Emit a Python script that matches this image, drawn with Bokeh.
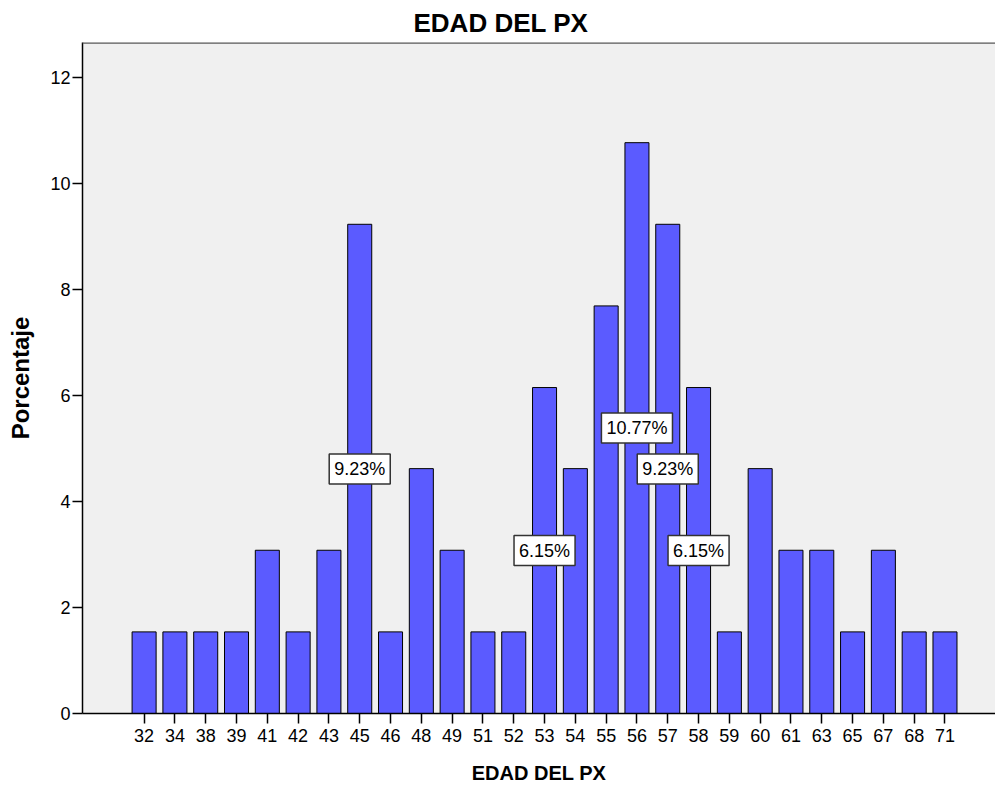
from bokeh.plotting import figure
from bokeh.models import ColumnDataSource, Label, FixedTicker, Range1d, Span
from bokeh.embed import file_html
from bokeh.resources import INLINE

edades = ["32", "34", "38", "39", "41", "42", "43", "45", "46", "48", "49", "51", "52", "53",
          "54", "55", "56", "57", "58", "59", "60", "61", "63", "65", "67", "68", "71"]
porcentaje = [1.54, 1.54, 1.54, 1.54, 3.08, 1.54, 3.08, 9.23, 1.54, 4.62, 3.08, 1.54, 1.54, 6.15,
              4.62, 7.69, 10.77, 9.23, 6.15, 1.54, 4.62, 3.08, 3.08, 1.54, 3.08, 1.54, 1.54]
etiquetadas = ["45", "53", "56", "57", "58"]

idx = list(range(len(edades)))
src = ColumnDataSource(dict(x=idx, top=porcentaje))

FONT = "Liberation Sans"
Y_TOP = 12.66

p = figure(width=995, height=787, output_backend="svg", toolbar_location=None,
           x_range=Range1d(-2.0, 27.64), y_range=Range1d(0, Y_TOP),
           min_border_left=82, min_border_right=0, min_border_top=42, min_border_bottom=74)

p.title.text = "EDAD DEL PX"
p.title.align = "left"
p.title.offset = 331
p.title.standoff = 10
p.title.text_font = FONT
p.title.text_font_size = "26px"
p.title.text_font_style = "bold"
p.title.text_color = "black"

p.background_fill_color = "#F0F0F0"
p.border_fill_color = "white"
p.outline_line_color = None
p.xgrid.visible = False
p.ygrid.visible = False

# top frame border (the reference shows no right border)
p.add_layout(Span(location=Y_TOP, dimension="width", line_color="#5a5a5a", line_width=2.5))

p.vbar(x="x", top="top", width=0.78, source=src, fill_color="#5B5BFF",
       line_color="black", line_width=1)

p.xaxis.ticker = FixedTicker(ticks=idx)
p.xaxis.major_label_overrides = {i: e for i, e in enumerate(edades)}
p.yaxis.ticker = FixedTicker(ticks=[0, 2, 4, 6, 8, 10, 12])

for ax in (p.xaxis, p.yaxis):
    ax.axis_line_color = "black"
    ax.axis_line_width = 1.5
    ax.major_tick_line_color = "black"
    ax.major_tick_line_width = 1.5
    ax.major_tick_out = 10
    ax.major_tick_in = 0
    ax.minor_tick_line_color = None
    ax.major_label_text_font = FONT
    ax.major_label_text_color = "black"
    ax.axis_label_text_font = FONT
    ax.axis_label_text_font_style = "bold"
    ax.axis_label_text_color = "black"

p.xaxis.major_label_text_font_size = "18px"
p.yaxis.major_label_text_font_size = "18px"
p.xaxis.axis_label_text_font_size = "20px"
p.yaxis.axis_label_text_font_size = "24px"
p.xaxis.axis_label = "EDAD DEL PX"
p.yaxis.axis_label = "Porcentaje"
p.xaxis.major_label_standoff = 5
p.yaxis.major_label_standoff = 2
p.xaxis.axis_label_standoff = 17
p.yaxis.axis_label_standoff = 13

for e in etiquetadas:
    i = edades.index(e)
    v = porcentaje[i]
    p.add_layout(Label(x=i, y=v / 2, text="%.2f%%" % v, text_align="center",
                       text_baseline="middle", text_font=FONT, text_font_size="18px",
                       text_color="black", background_fill_color="white",
                       border_line_color="#333333", border_line_width=1.5, padding=5))

open("out.html", "w").write(file_html(p, INLINE))
